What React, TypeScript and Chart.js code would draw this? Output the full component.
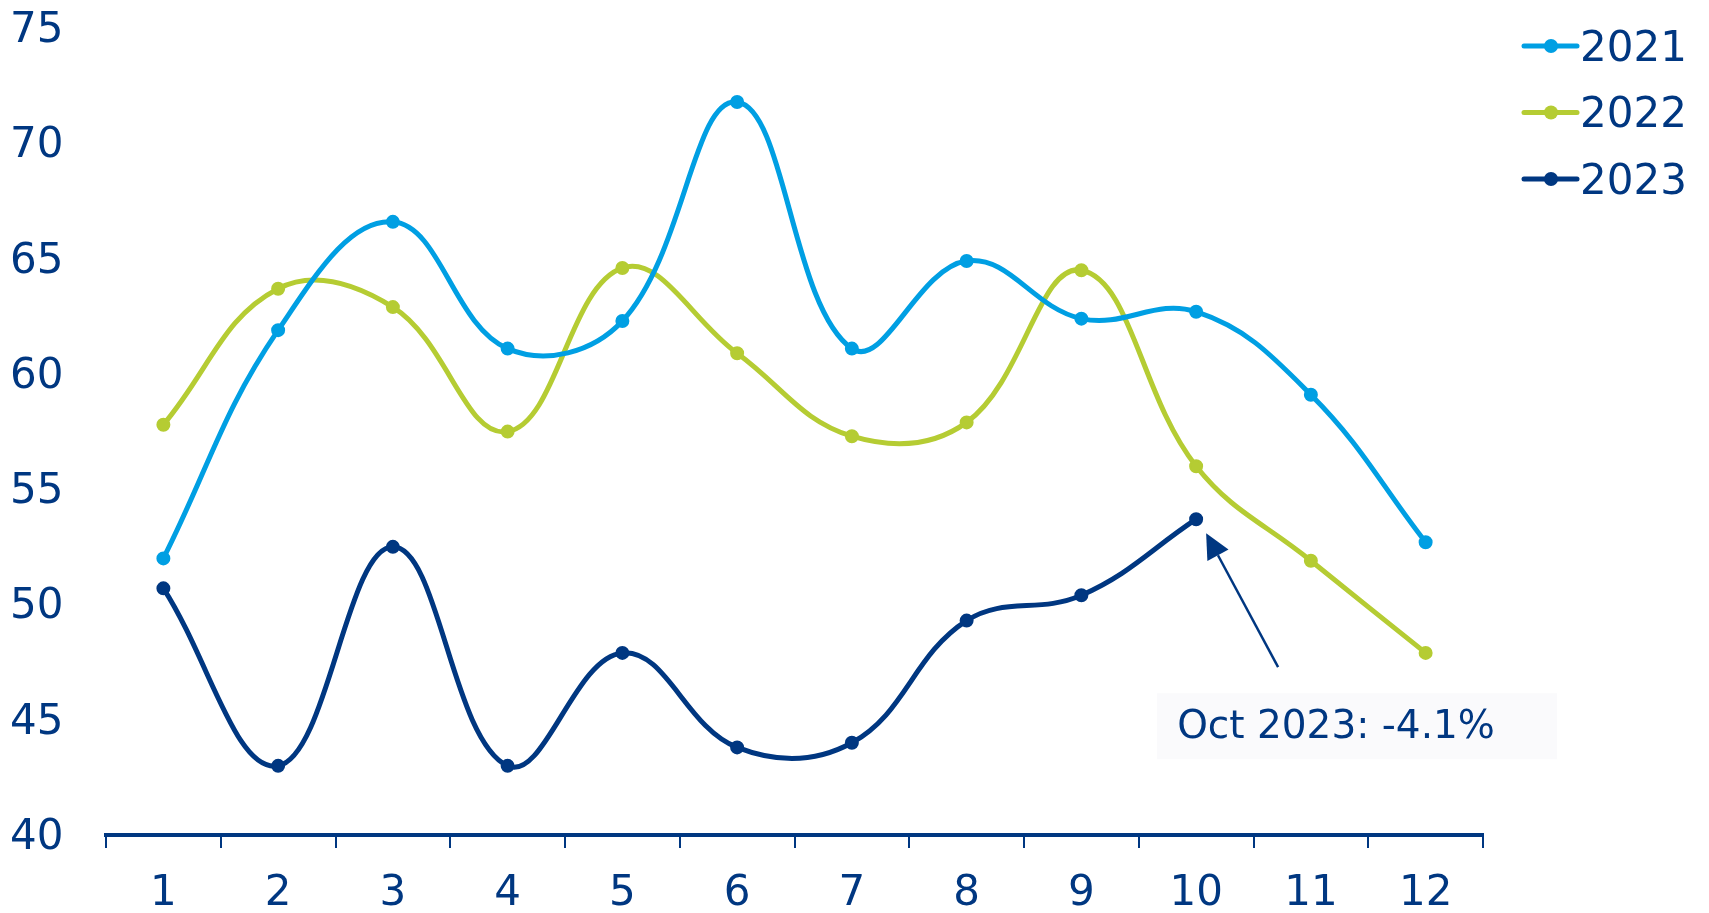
import React, { useEffect, useRef } from "react";
import { Chart, registerables } from "chart.js";

Chart.register(...registerables);

const months = ["1", "2", "3", "4", "5", "6", "7", "8", "9", "10", "11", "12"];
const series2021 = [52.0, 61.9, 66.6, 61.1, 62.3, 71.8, 61.1, 64.9, 62.4, 62.7, 59.1, 52.7];
const series2022 = [57.8, 63.7, 62.9, 57.5, 64.6, 60.9, 57.3, 57.9, 64.5, 56.0, 51.9, 47.9];
const series2023 = [50.7, 43.0, 52.5, 43.0, 47.9, 43.8, 44.0, 49.3, 50.4, 53.7];
const seriesLabels = ["2021", "2022", "2023"];
const seriesColors = ["#009FE3", "#B5CC33", "#003781"];
const annotationText = "Oct 2023: -4.1%";

const TEXT = "#003781";
const FONT = "DejaVu Sans, Verdana, sans-serif";

export default function App() {
  const ref = useRef<HTMLCanvasElement | null>(null);

  useEffect(() => {
    const canvas = ref.current;
    if (!canvas) return;

    const legendPlugin = {
      id: "customLegend",
      afterDraw(chart: any) {
        const ctx = chart.ctx;
        ctx.save();
        const x0 = chart.chartArea.right + 39;
        chart.data.datasets.forEach((ds: any, i: number) => {
          const y = 46 + i * 66.5;
          ctx.strokeStyle = ds.borderColor;
          ctx.lineWidth = 5;
          ctx.lineCap = "round";
          ctx.beginPath();
          ctx.moveTo(x0 + 2, y);
          ctx.lineTo(x0 + 55, y);
          ctx.stroke();
          ctx.fillStyle = ds.borderColor;
          ctx.beginPath();
          ctx.arc(x0 + 29, y, 7, 0, Math.PI * 2);
          ctx.fill();
          ctx.fillStyle = TEXT;
          ctx.font = `42px ${FONT}`;
          ctx.textAlign = "left";
          ctx.textBaseline = "middle";
          ctx.fillText(ds.label, x0 + 58, y + 4);
        });
        ctx.restore();
      },
    };

    const annotationPlugin = {
      id: "annotation",
      afterDraw(chart: any) {
        const meta = chart.getDatasetMeta(2);
        const pt = meta.data[series2023.length - 1];
        if (!pt) return;
        const ctx = chart.ctx;
        ctx.save();
        const tipX = pt.x + 10;
        const tipY = pt.y + 14;
        const endX = tipX + 72;
        const endY = tipY + 134;
        ctx.fillStyle = "#FAFAFC";
        ctx.fillRect(tipX - 49, tipY + 160, 400, 66);
        ctx.fillStyle = TEXT;
        ctx.font = `39px ${FONT}`;
        ctx.textAlign = "left";
        ctx.textBaseline = "middle";
        ctx.fillText(annotationText, tipX - 29, tipY + 195);
        const dx = tipX - endX;
        const dy = tipY - endY;
        const len = Math.sqrt(dx * dx + dy * dy);
        const ux = dx / len;
        const uy = dy / len;
        const headLen = 25;
        const half = 12;
        const bx = tipX - ux * headLen;
        const by = tipY - uy * headLen;
        ctx.strokeStyle = TEXT;
        ctx.lineWidth = 2.5;
        ctx.beginPath();
        ctx.moveTo(endX, endY);
        ctx.lineTo(bx, by);
        ctx.stroke();
        ctx.fillStyle = TEXT;
        ctx.beginPath();
        ctx.moveTo(tipX, tipY);
        ctx.lineTo(bx - uy * half, by + ux * half);
        ctx.lineTo(bx + uy * half, by - ux * half);
        ctx.closePath();
        ctx.fill();
        ctx.restore();
      },
    };

    const allSeries = [series2021, series2022, series2023];

    const chart = new Chart(canvas, {
      type: "line",
      data: {
        labels: months,
        datasets: allSeries.map((data, i) => ({
          label: seriesLabels[i],
          data,
          borderColor: seriesColors[i],
          backgroundColor: seriesColors[i],
          pointBackgroundColor: seriesColors[i],
          pointBorderColor: seriesColors[i],
          borderWidth: 5,
          pointRadius: 6,
          pointBorderWidth: 2,
          tension: 0.4,
          fill: false,
        })),
      },
      options: {
        responsive: false,
        animation: false,
        layout: { padding: { top: 24, right: 226, left: 10, bottom: 0 } },
        plugins: {
          legend: { display: false },
          tooltip: { enabled: false },
        },
        scales: {
          x: {
            type: "category",
            offset: true,
            grid: {
              offset: true,
              drawOnChartArea: false,
              drawTicks: true,
              tickLength: 13,
              color: TEXT,
              lineWidth: 2,
            },
            border: { display: true, color: TEXT, width: 4 },
            ticks: {
              color: TEXT,
              font: { family: FONT, size: 42 },
              padding: 21,
            },
            afterFit(scale: any) {
              scale.height = 78;
            },
          },
          y: {
            min: 40,
            max: 75,
            grid: { display: false },
            border: { display: false },
            ticks: {
              stepSize: 5,
              color: TEXT,
              crossAlign: "far",
              labelOffset: 3,
              font: { family: FONT, size: 42 },
            },
            afterFit(scale: any) {
              scale.width = 96;
            },
          },
        },
      },
      plugins: [legendPlugin, annotationPlugin],
    });

    return () => chart.destroy();
  }, []);

  return (
    <div style={{ position: "fixed", left: 0, top: 0, width: 1709, height: 913, background: "#fff" }}>
      <canvas ref={ref} width={1709} height={913} style={{ display: "block" }} />
    </div>
  );
}
